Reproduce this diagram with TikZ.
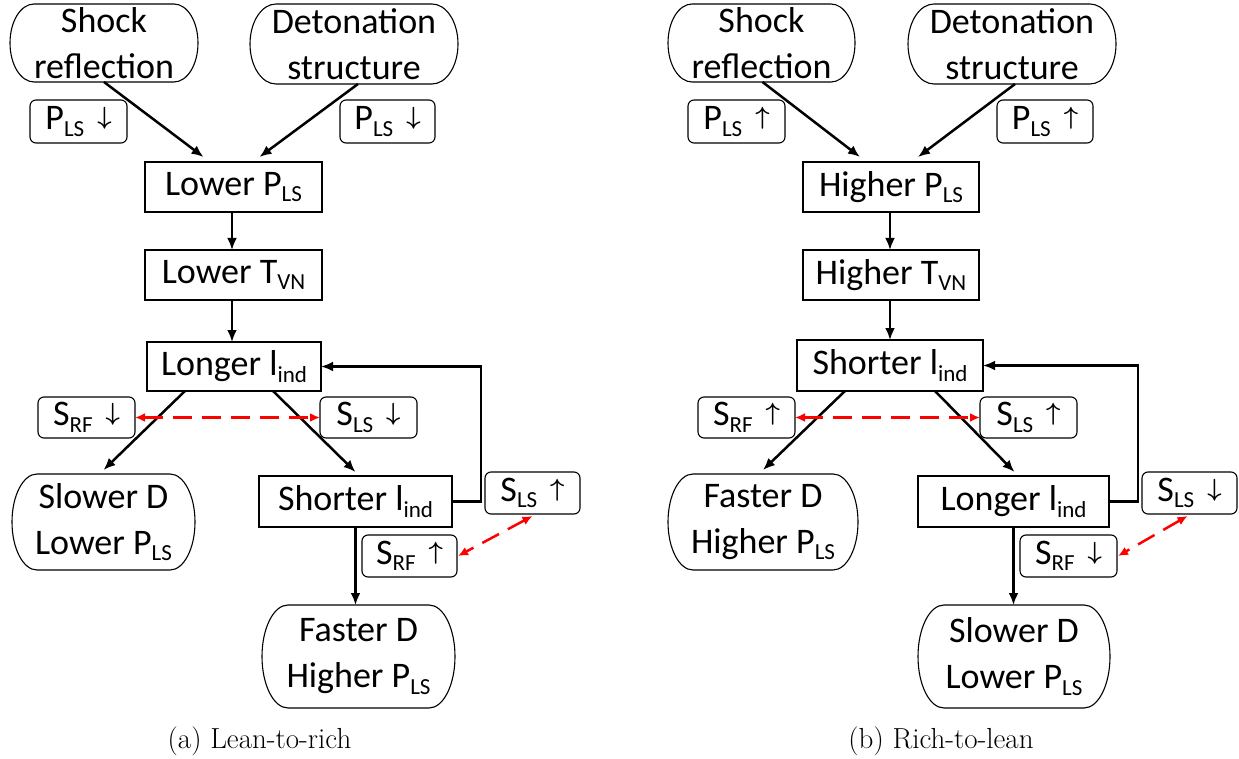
\documentclass[tikz,border=0pt]{standalone}
\usepackage{fontspec}
\newfontfamily\calfont{Carlito}
\usetikzlibrary{arrows.meta,calc}
\newcommand{\sbs}[1]{\raisebox{-6.5pt}{\fontsize{23}{23}\selectfont #1}}
\newcommand{\arrD}{\hspace{13pt}\raisebox{5pt}{\fontsize{28.5}{28.5}\selectfont\boldmath$\downarrow$}}
\newcommand{\arrU}{\hspace{13pt}\raisebox{5pt}{\fontsize{28.5}{28.5}\selectfont\boldmath$\uparrow$}}
% elliptical-ended outline around a node: #1 name, #2 x radius, #3 half height
\newcommand{\ellbox}[3]{%
  \draw[line width=1.1pt] ([xshift=#2]#1.north west) -- ([xshift=-#2]#1.north east)
    arc[start angle=90,end angle=-90,x radius=#2,y radius=#3]
    -- ([xshift=#2]#1.south west)
    arc[start angle=270,end angle=90,x radius=#2,y radius=#3] -- cycle;}
\begin{document}
\begin{tikzpicture}[x=1pt,y=-1pt,
  box/.style={draw, line width=1.1pt, inner sep=0pt, outer sep=0pt, align=center,
    font=\calfont\fontsize{36}{46}\selectfont},
  rbox/.style={box, draw=none},
  tag/.style={box, rounded corners=6pt},
  conn/.style={line width=2.5pt, -{Latex[length=12pt,width=10pt]}},
  rd/.style={red, line width=2.5pt, dash pattern=on 19pt off 10pt,
    {Latex[length=10pt,width=9pt]}-{Latex[length=10pt,width=9pt]}},
  captxt/.style={font=\fontsize{29}{34}\selectfont}]
\useasboundingbox (0,0) rectangle (1239,759);
% ---------- panel (a)
\node[rbox, minimum width=188pt, minimum height=78pt] (shockA) at (104,43) {Shock\\reflection};
\node[rbox, minimum width=208pt, minimum height=80pt] (detA) at (354,44) {Detonation\\structure};
\node[tag, minimum width=97pt, minimum height=43pt] (plsA1) at (78.5,121.5) {P\sbs{LS}\arrD};
\node[tag, minimum width=95pt, minimum height=43pt] (plsA2) at (387.5,121.5) {P\sbs{LS}\arrD};
\node[box, minimum width=177pt, minimum height=50pt] (lowP) at (233.5,187) {Lower P\sbs{LS}};
\node[box, minimum width=177pt, minimum height=50pt] (lowT) at (233.5,275) {Lower T\sbs{VN}};
\node[box, minimum width=174pt, minimum height=49pt] (longA) at (234,366.5) {Longer l\sbs{ind}};
\node[tag, minimum width=97pt, minimum height=41pt] (srfA) at (86.5,417.5) {S\sbs{RF}\arrD};
\node[tag, minimum width=97pt, minimum height=41pt] (slsA) at (368.5,417.5) {S\sbs{LS}\arrD};
\node[rbox, minimum width=183pt, minimum height=96pt] (slowA) at (103.5,522) {Slower D\\Lower P\sbs{LS}};
\node[box, minimum width=193pt, minimum height=51pt] (shortA) at (355.5,501.5) {Shorter l\sbs{ind}};
\node[tag, minimum width=95pt, minimum height=42pt] (slsA2) at (532.5,493) {S\sbs{LS}\arrU};
\node[tag, minimum width=95pt, minimum height=42pt] (srfA2) at (409.5,556) {S\sbs{RF}\arrU};
\node[rbox, minimum width=193pt, minimum height=103pt] (fastA) at (358.5,656.5) {Faster D\\Higher P\sbs{LS}};
\node[captxt] (capA) at (259.5,741) {(a) Lean-to-rich};
\ellbox{shockA}{24pt}{39pt}
\ellbox{detA}{26pt}{40pt}
\ellbox{slowA}{25pt}{48pt}
\ellbox{fastA}{26pt}{51.5pt}

\draw[conn] (shockA.south) -- ([xshift=-30pt,yshift=5pt]lowP.north);
\draw[conn] ([xshift=4pt]detA.south) -- ([xshift=26pt,yshift=5pt]lowP.north);
\draw[conn] ([xshift=-1.5pt]lowP.south) -- ([xshift=-1.5pt]lowT.north);
\draw[conn] ([xshift=-1.5pt]lowT.south) -- ([xshift=-1.5pt]lowT.south |- longA.north);
\draw[conn] ([xshift=-49pt]longA.south) -- ([yshift=4pt]slowA.north);
\draw[conn] ([xshift=39pt]longA.south) -- ([yshift=4pt]shortA.north);
\draw[conn] (shortA.east) -- ++(29,0) |- (longA.east);
\draw[conn] (shortA.south) -- (shortA.south |- fastA.north);
\draw[rd] (srfA.east) -- (slsA.west);
\draw[rd] ([yshift=-2pt]slsA2.south) -- ([xshift=1pt]srfA2.east);

% ---------- panel (b)
\node[rbox, minimum width=187pt, minimum height=78pt] (shockB) at (761.5,43) {Shock\\reflection};
\node[rbox, minimum width=208pt, minimum height=80pt] (detB) at (1012,44) {Detonation\\structure};
\node[tag, minimum width=97pt, minimum height=43pt] (plsB1) at (736.5,121.5) {P\sbs{LS}\arrU};
\node[tag, minimum width=96pt, minimum height=43pt] (plsB2) at (1045,121.5) {P\sbs{LS}\arrU};
\node[box, minimum width=176pt, minimum height=50pt] (highP) at (891,187) {Higher P\sbs{LS}};
\node[box, minimum width=176pt, minimum height=50pt] (highT) at (891,275) {Higher T\sbs{VN}};
\node[box, minimum width=186pt, minimum height=51pt] (shortB) at (890,365.5) {Shorter l\sbs{ind}};
\node[tag, minimum width=97pt, minimum height=41pt] (srfB) at (746.5,417.5) {S\sbs{RF}\arrU};
\node[tag, minimum width=97pt, minimum height=41pt] (slsB) at (1028.5,417.5) {S\sbs{LS}\arrU};
\node[rbox, minimum width=190pt, minimum height=96pt] (fastB) at (763,522) {Faster D\\Higher P\sbs{LS}};
\node[box, minimum width=191pt, minimum height=51pt] (longB) at (1013.5,501.5) {Longer l\sbs{ind}};
\node[tag, minimum width=95pt, minimum height=42pt] (slsB2) at (1189.5,493) {S\sbs{LS}\arrD};
\node[tag, minimum width=97pt, minimum height=42pt] (srfB2) at (1068.5,556) {S\sbs{RF}\arrD};
\node[rbox, minimum width=192pt, minimum height=103pt] (slowB) at (1014,656.5) {Slower D\\Lower P\sbs{LS}};
\node[captxt] (capB) at (941,741) {(b) Rich-to-lean};
\ellbox{shockB}{24pt}{39pt}
\ellbox{detB}{26pt}{40pt}
\ellbox{fastB}{25pt}{48pt}
\ellbox{slowB}{26pt}{51.5pt}

\draw[conn] ([xshift=1pt]shockB.south) -- ([xshift=-31pt,yshift=5pt]highP.north);
\draw[conn] ([xshift=3pt]detB.south) -- ([xshift=27pt,yshift=5pt]highP.north);
\draw[conn] ([xshift=-1pt]highP.south) -- ([xshift=-1pt]highT.north);
\draw[conn] ([xshift=-1pt]highT.south) -- ([xshift=-1pt]highT.south |- shortB.north);
\draw[conn] ([xshift=-45pt]shortB.south) -- ([yshift=4pt]fastB.north);
\draw[conn] ([xshift=45pt]shortB.south) -- ([yshift=4pt,xshift=1pt]longB.north);
\draw[conn] (longB.east) -- ++(29,0) |- (shortB.east);
\draw[conn] (longB.south) -- (longB.south |- slowB.north);
\draw[rd] (srfB.east) -- (slsB.west);
\draw[rd] ([yshift=-2pt,xshift=-2pt]slsB2.south) -- ([xshift=1pt]srfB2.east);
\end{tikzpicture}
\end{document}
